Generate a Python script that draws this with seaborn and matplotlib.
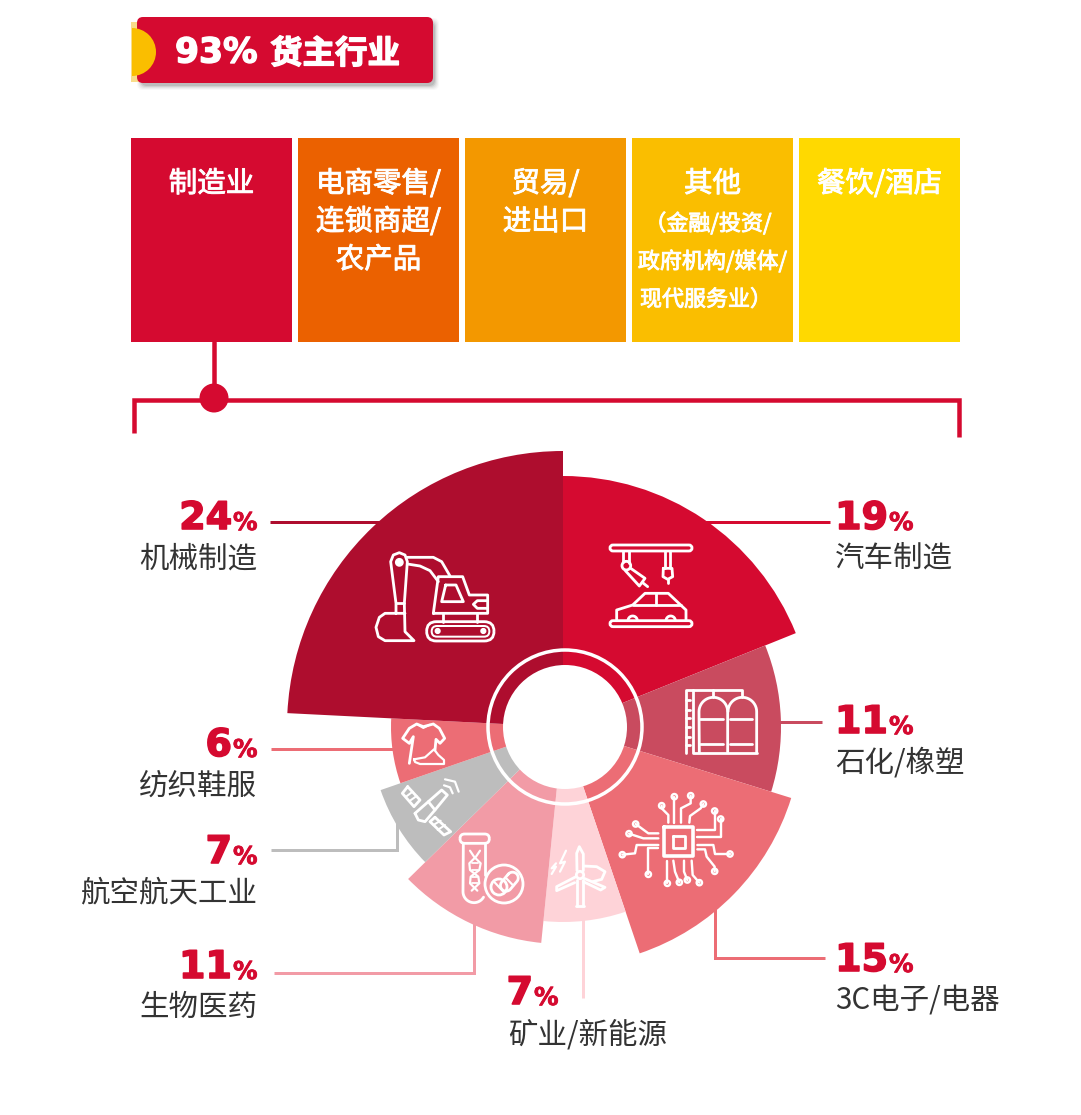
#!/usr/bin/env python
# -*- coding: utf-8 -*-
"""Rose chart of shipper industries below a row of category blocks."""
import numpy as np
import matplotlib
matplotlib.use('Agg')
import matplotlib.pyplot as plt
import matplotlib.patheffects as pe
from matplotlib.patches import Circle, FancyBboxPatch, Wedge, Rectangle
import seaborn as sns

WIDTH, HEIGHT = 1081, 1115

block_labels = ['制造业', '电商零售', '贸易', '其他', '餐饮']
block_heights = [1, 1, 1, 1, 1]
block_colors = ['#d50a30', '#eb6100', '#f39800', '#fabe00', '#ffd900']

# clockwise from twelve o'clock
sector_names = ['汽车制造', '石化/橡塑', '3C电子/电器', '矿业/新能源',
                '生物医药', '航空航天工业', '纺织鞋服', '机械制造']
sector_labels = ['19', '11', '15', '7', '11', '7', '6', '24']
# sweep of each slice as measured on the picture, in percent of the circle
sector_sweeps = [18.9, 10.9, 15.0, 6.8, 11.05, 7.05, 6.1, 24.2]
sector_radii = [251, 218, 239, 195, 217, 193, 172, 276]
sector_colors = ['#d50a30', '#c94b5f', '#ec6d75', '#fed3d8',
                 '#f29ba6', '#bdbdbd', '#ec6d75', '#ae0d2e']

RED = '#d50a30'
DARK = '#333333'
CJK = ['Noto Sans CJK SC', 'DejaVu Sans']


def px(size):
    """Font size or line width given in image pixels."""
    return size * 72 / 100


def heavy(color, width=1.0):
    return [pe.withStroke(linewidth=px(width), foreground=color)]


def fig_rect(left, top, right, bottom):
    return [left / WIDTH, 1 - bottom / HEIGHT,
            (right - left) / WIDTH, (bottom - top) / HEIGHT]


def pixel_axes(fig, zorder):
    ax = fig.add_axes([0, 0, 1, 1], zorder=zorder)
    ax.set_xlim(0, WIDTH)
    ax.set_ylim(HEIGHT, 0)
    ax.axis('off')
    ax.patch.set_alpha(0)
    return ax


def draw_blocks(fig):
    ax = fig.add_axes(fig_rect(131, 138, 960, 342), zorder=0)
    sns.barplot(x=block_labels, y=block_heights, hue=block_labels,
                palette=block_colors, saturation=1, width=161 / 167,
                linewidth=0, legend=False, ax=ax)
    ax.set_xlim(-0.5 + 3 / 167, 4.5 - 3 / 167)
    ax.set_ylim(0, 1)
    ax.axis('off')


def draw_header(ax):
    # soft shadow
    for grow, alpha in [(3, .04), (2, .06), (1, .08), (0, .12), (-1, .16)]:
        ax.add_patch(FancyBboxPatch(
            (137 + 3 - grow, 17 + 4 - grow), 296 + 2 * grow, 66 + 2 * grow,
            boxstyle='round,pad=0,rounding_size=6', fc='#555555', ec='none',
            alpha=alpha, zorder=1))
    ax.add_patch(Rectangle((131, 22), 8, 60, fc='#f8dc8a', ec='none', zorder=2))
    ax.add_patch(FancyBboxPatch(
        (137, 17), 296, 66, boxstyle='round,pad=0,rounding_size=6',
        fc=RED, ec='none', zorder=3))
    ax.add_patch(Wedge((132, 52), 24, -90, 90, fc='#fabe00', ec='none', zorder=4))
    ax.text(175, 53, '93%', color='white', fontsize=px(34.5), family='DejaVu Sans',
            weight='bold', va='center', ha='left', zorder=5,
            path_effects=heavy('white', 1.4))
    ax.text(270, 54, '货主行业', color='white', fontsize=px(32.5), family=CJK,
            weight='bold', va='center', ha='left', zorder=5,
            path_effects=heavy('white', 1.4))


def draw_block_text(ax):
    big = dict(color='white', fontsize=px(28.5), family=CJK, weight='regular',
               ha='center', va='center', zorder=5, path_effects=heavy('white', 0.9))
    small = dict(big, fontsize=px(22))
    ax.text(211.5, 184, '制造业', **big)
    ax.text(378.5, 184, '电商零售/', **big)
    ax.text(378.5, 222, '连锁商超/', **big)
    ax.text(378.5, 260, '农产品', **big)
    ax.text(545.5, 184, '贸易/', **big)
    ax.text(545.5, 222, '进出口', **big)
    ax.text(712.5, 184, '其他', **big)
    ax.text(708, 224, '（金融/投资/', **small)
    ax.text(712.5, 262, '政府机构/媒体/', **small)
    ax.text(706, 300, '现代服务业）', **small)
    ax.text(879.5, 184, '餐饮/酒店', **big)


def draw_bracket(ax):
    ax.plot([134, 134, 959, 959], [433, 400, 400, 437], color=RED, lw=px(4.5),
            solid_joinstyle='miter', solid_capstyle='butt', zorder=3)
    ax.plot([214, 214], [342, 398], color=RED, lw=px(4.5), zorder=3)
    ax.add_patch(Circle((214, 398), 14.5, fc=RED, ec='none', zorder=4))


def draw_leaders(ax):
    style = dict(lw=px(3), solid_joinstyle='miter', solid_capstyle='butt', zorder=2)
    ax.plot([270, 400], [522, 522], color='#ae0d2e', **style)
    ax.plot([700, 830], [522, 522], color=RED, **style)
    ax.plot([770, 822], [722, 722], color='#c94b5f', **style)
    ax.plot([715, 715, 825], [900, 958, 958], color='#ec6d75', **style)
    ax.plot([271, 400], [749, 749], color='#ec6d75', **style)
    ax.plot([271, 397, 397], [850, 850, 820], color='#bdbdbd', **style)
    ax.plot([274, 474, 474], [973, 973, 920], color='#f29ba6', **style)
    ax.plot([583, 583], [910, 998], color='#fed3d8', **style)


def percent_label(ax, text, digit_right, y):
    """Large figure with a smaller percent sign right of it."""
    ax.text(digit_right, y, text, color=RED, fontsize=px(38), family='DejaVu Sans',
            weight='bold', ha='right', va='center', zorder=5,
            path_effects=heavy(RED, 1.6))
    ax.text(digit_right + 1, y + 4, '%', color=RED, fontsize=px(24.5),
            family='DejaVu Sans', weight='bold', ha='left', va='center', zorder=5,
            path_effects=heavy(RED, 0.8))


def draw_labels(ax):
    name = dict(color=DARK, fontsize=px(29.5), family=CJK, va='center', zorder=5)
    # sector index, figure anchor x and y, name anchor x and y, alignment
    rows = [(7, 232, 519, 257, 559, 'right'),
            (0, 888, 519, 835, 559, 'left'),
            (1, 888, 723, 835, 763, 'left'),
            (2, 888, 961, 835, 1000, 'left'),
            (6, 232, 746, 257, 786, 'right'),
            (5, 232, 853, 257, 893, 'right'),
            (4, 232, 968, 257, 1007, 'right'),
            (3, 533, 994, 508, 1035, 'left')]
    for idx, num_x, num_y, label_x, label_y, align in rows:
        percent_label(ax, sector_labels[idx], num_x, num_y)
        ax.text(label_x, label_y, sector_names[idx], ha=align, **name)


def draw_rose(fig):
    """Polar bars: sweep sets the angle, radius is picked per sector."""
    centre_x, centre_y, limit = 563, 727, 280
    ax = fig.add_axes(fig_rect(centre_x - limit, centre_y - limit,
                               centre_x + limit, centre_y + limit),
                      projection='polar', zorder=2)
    ax.set_theta_zero_location('N')
    ax.set_theta_direction(-1)
    sweeps = np.array(sector_sweeps) / sum(sector_sweeps) * 2 * np.pi
    starts = np.concatenate([[0], np.cumsum(sweeps)[:-1]])
    ax.bar(starts, sector_radii, width=sweeps, align='edge',
           color=sector_colors, linewidth=0)
    ax.set_ylim(0, limit)
    ax.axis('off')
    ax.patch.set_alpha(0)


def line(ax, origin, points, lw=2.8, closed=False):
    """White icon stroke, points given in 3x zoom coordinates of a crop."""
    pts = np.array(points, dtype=float) / 3 + origin
    if closed:
        pts = np.vstack([pts, pts[:1]])
    ax.plot(pts[:, 0], pts[:, 1], color='white', lw=px(lw),
            solid_joinstyle='round', solid_capstyle='round', zorder=6)


def ring(ax, origin, x, y, r, lw=2.8, fill=False):
    ax.add_patch(Circle((origin[0] + x / 3, origin[1] + y / 3), r / 3,
                        fc='white' if fill else 'none', ec='white',
                        lw=px(lw), zorder=6))


def pill(ax, origin, x0, y0, x1, y1, lw=2.8):
    r = (y1 - y0) / 3 / 2
    ax.add_patch(FancyBboxPatch(
        (origin[0] + x0 / 3, origin[1] + y0 / 3), (x1 - x0) / 3, (y1 - y0) / 3,
        boxstyle='round,pad=0,rounding_size=%.2f' % r, fc='none', ec='white',
        lw=px(lw), zorder=6))


def arc(cx, cy, r, a0, a1, n=24):
    t = np.radians(np.linspace(a0, a1, n))
    return np.column_stack([cx + r * np.cos(t), cy + r * np.sin(t)])


def capsule(cx, cy, half, r, angle):
    """Outline of a capsule tilted by angle degrees."""
    d = np.array([np.cos(np.radians(angle)), np.sin(np.radians(angle))]) * half
    return np.vstack([arc(cx + d[0], cy + d[1], r, angle - 90, angle + 90),
                      arc(cx - d[0], cy - d[1], r, angle + 90, angle + 270)])


def icon_excavator(ax):
    o = (270, 440)
    line(ax, o, [(378, 520), (378, 490), (362, 365), (370, 345), (388, 338), (405, 345),
                 (412, 365), (403, 490), (405, 575), (432, 602), (345, 602),
                 (325, 590), (318, 562), (328, 532), (345, 520), (405, 520)])
    line(ax, o, [(378, 490), (403, 490)])
    ring(ax, o, 388, 367, 9, fill=True)
    line(ax, o, [(412, 352), (490, 352), (515, 365), (540, 408)])
    line(ax, o, [(412, 372), (450, 378), (480, 392), (505, 425)])
    line(ax, o, [(490, 520), (505, 410), (578, 410), (598, 465), (653, 465), (653, 520)], closed=True)
    line(ax, o, [(527, 435), (558, 435), (580, 485), (515, 485)], closed=True)
    line(ax, o, [(653, 482), (622, 482), (610, 493), (622, 505), (653, 505)])
    line(ax, o, [(520, 520), (520, 545)])
    line(ax, o, [(620, 520), (620, 545)])
    pill(ax, o, 470, 545, 672, 603)
    pill(ax, o, 485, 558, 658, 590, lw=2)
    ring(ax, o, 503, 573, 5, fill=True)
    ring(ax, o, 640, 573, 5, fill=True)


def icon_car(ax):
    o = (560, 470)
    pill(ax, o, 150, 225, 396, 243)
    pill(ax, o, 150, 452, 396, 470)
    line(ax, o, [(190, 243), (190, 275)])
    line(ax, o, [(206, 243), (206, 280)])
    ring(ax, o, 199, 287, 13)
    line(ax, o, [(212, 295), (255, 325), (238, 348), (196, 302)])
    line(ax, o, [(248, 338), (263, 350)])
    line(ax, o, [(314, 243), (314, 295)])
    line(ax, o, [(331, 243), (331, 295)])
    line(ax, o, [(310, 295), (336, 295), (338, 320), (323, 328), (309, 320)], closed=True)
    line(ax, o, [(323, 328), (323, 340)])
    line(ax, o, [(170, 452), (170, 420), (218, 405), (255, 370), (325, 370), (362, 405),
                 (378, 420), (378, 452)])
    line(ax, o, [(218, 405), (362, 405)])
    line(ax, o, [(288, 370), (288, 405)])
    line(ax, o, arc(218, 452, 14, 180, 360))
    line(ax, o, arc(332, 452, 14, 180, 360))


def icon_tanks(ax):
    o = (560, 470)
    line(ax, o, [(378, 848), (378, 660), (545, 660), (545, 680)])
    line(ax, o, [(398, 660), (398, 848), (590, 848)])
    for y in (690, 720, 745, 770, 800, 825):
        line(ax, o, [(378, y), (390, y)])
    line(ax, o, [(460, 660), (460, 682)])
    left = np.vstack([[(418, 848)], arc(460, 725, 43, 180, 360), [(503, 848)]])
    right = np.vstack([arc(547, 725, 43, 180, 360), [(590, 848)]])
    line(ax, o, left)
    line(ax, o, right)
    line(ax, o, [(420, 748), (490, 748)])
    line(ax, o, [(510, 748), (575, 748)])
    line(ax, o, [(420, 822), (490, 822)])
    line(ax, o, [(510, 822), (575, 822)])


def icon_chip(ax):
    o = (580, 740)
    line(ax, o, [(252, 262), (340, 262), (340, 348), (252, 348)], lw=3.6, closed=True)
    line(ax, o, [(278, 288), (315, 288), (315, 325), (278, 325)], closed=True)
    traces = [[(245, 197), (245, 205), (265, 225), (265, 248)],
              [(283, 170), (283, 248)],
              [(332, 167), (332, 190), (303, 205), (303, 248)],
              [(370, 192), (362, 205), (330, 228), (328, 248)],
              [(404, 213), (404, 270), (352, 270)],
              [(422, 237), (422, 290), (352, 290)],
              [(450, 342), (405, 342), (400, 315), (352, 315)],
              [(404, 394), (404, 380), (380, 350), (375, 328), (352, 328)],
              [(358, 428), (338, 405), (335, 362)],
              [(322, 420), (312, 395), (312, 362)],
              [(298, 427), (285, 395), (280, 362)],
              [(262, 430), (262, 362)],
              [(205, 403), (205, 325), (235, 325)],
              [(127, 344), (165, 340), (170, 315), (235, 315)],
              [(147, 281), (190, 295), (235, 295)],
              [(167, 252), (205, 280), (235, 280)]]
    for trace in traces:
        line(ax, o, trace, lw=2.4)
        ring(ax, o, trace[0][0], trace[0][1], 8, lw=2.4)


def icon_turbine(ax):
    o = (370, 700)
    line(ax, o, [(622, 540), (622, 618)])
    line(ax, o, [(638, 540), (638, 618)])
    line(ax, o, [(618, 618), (642, 618)])
    ring(ax, o, 630, 525, 11)
    line(ax, o, [(621, 512), (620, 460), (628, 440), (640, 462), (640, 512)])
    line(ax, o, [(618, 530), (560, 560), (560, 572), (614, 548)])
    line(ax, o, [(642, 535), (705, 562), (692, 570), (640, 545)])
    line(ax, o, [(640, 498), (680, 500), (705, 515), (695, 538), (668, 545)])
    line(ax, o, [(588, 452), (570, 490), (585, 485), (570, 515)], lw=2.2)
    line(ax, o, [(558, 490), (545, 505), (558, 500), (545, 522)], lw=2.2)


def icon_tube(ax):
    o = (370, 700)
    pill(ax, o, 270, 402, 358, 430)
    tube = np.vstack([[(280, 430)], arc(312, 575, 33, 180, 30)])
    line(ax, o, tube)
    line(ax, o, [(345, 430), (345, 525)])
    y = np.array([452, 470, 490, 510, 530, 550, 572])
    line(ax, o, np.column_stack([[330, 318, 298, 300, 325, 328, 305], y]), lw=2.2)
    line(ax, o, np.column_stack([[300, 312, 332, 328, 302, 300, 322], y]), lw=2.2)
    for yy in (490, 510, 530, 550):
        line(ax, o, [(305, yy), (325, yy)], lw=1.8)
    ring(ax, o, 402, 552, 57)
    line(ax, o, capsule(418, 545, 15, 17, -50), closed=True)
    line(ax, o, [(407, 533), (430, 557)], lw=2.2)
    ring(ax, o, 387, 561, 24)
    line(ax, o, [(372, 545), (402, 577)], lw=2.2)


def icon_satellite(ax):
    o = (370, 700)
    line(ax, o, [(113, 260), (150, 300), (132, 320), (97, 280)], closed=True)
    line(ax, o, [(108, 290), (128, 275)], lw=2)
    line(ax, o, [(120, 302), (140, 288)], lw=2)
    line(ax, o, [(195, 352), (242, 395), (222, 405), (180, 365)], closed=True)
    line(ax, o, [(190, 375), (212, 362)], lw=2)
    line(ax, o, [(203, 390), (225, 375)], lw=2)
    line(ax, o, [(175, 305), (215, 270), (232, 285), (195, 330)])
    line(ax, o, [(135, 340), (175, 305), (195, 330), (165, 365), (145, 360)], closed=True)
    line(ax, o, [(225, 238), (255, 245), (266, 275)], lw=2.2)
    line(ax, o, [(222, 256), (240, 262), (248, 280)], lw=2.2)


def icon_clothes(ax):
    o = (370, 700)
    line(ax, o, [(118, 190), (130, 110), (118, 130), (98, 115), (118, 85), (140, 72),
                 (160, 80), (190, 72), (208, 85), (224, 115), (210, 130), (198, 118),
                 (195, 150)])
    line(ax, o, [(140, 72), (160, 84), (180, 74)], lw=2)
    line(ax, o, [(132, 178), (165, 172), (192, 148), (205, 165), (222, 180),
                 (222, 192), (150, 192), (135, 186)], closed=True, lw=2.2)


def draw_centre(ax):
    ax.add_patch(Circle((565, 727), 62, fc='white', ec='none', zorder=5))
    ax.add_patch(Circle((565, 727), 77, fc='none', ec='white', lw=px(3.5), zorder=5))


def main():
    sns.set_theme(style='white')
    plt.rcParams['font.family'] = CJK

    fig = plt.figure(figsize=(WIDTH / 100, HEIGHT / 100), dpi=100, facecolor='white')
    draw_blocks(fig)

    under = pixel_axes(fig, 1)
    draw_header(under)
    draw_block_text(under)
    draw_bracket(under)
    draw_leaders(under)
    draw_labels(under)

    draw_rose(fig)

    over = pixel_axes(fig, 3)
    draw_centre(over)
    icon_excavator(over)
    icon_car(over)
    icon_tanks(over)
    icon_chip(over)
    icon_turbine(over)
    icon_tube(over)
    icon_satellite(over)
    icon_clothes(over)

    fig.savefig('out.png', dpi=100)


if __name__ == '__main__':
    main()
